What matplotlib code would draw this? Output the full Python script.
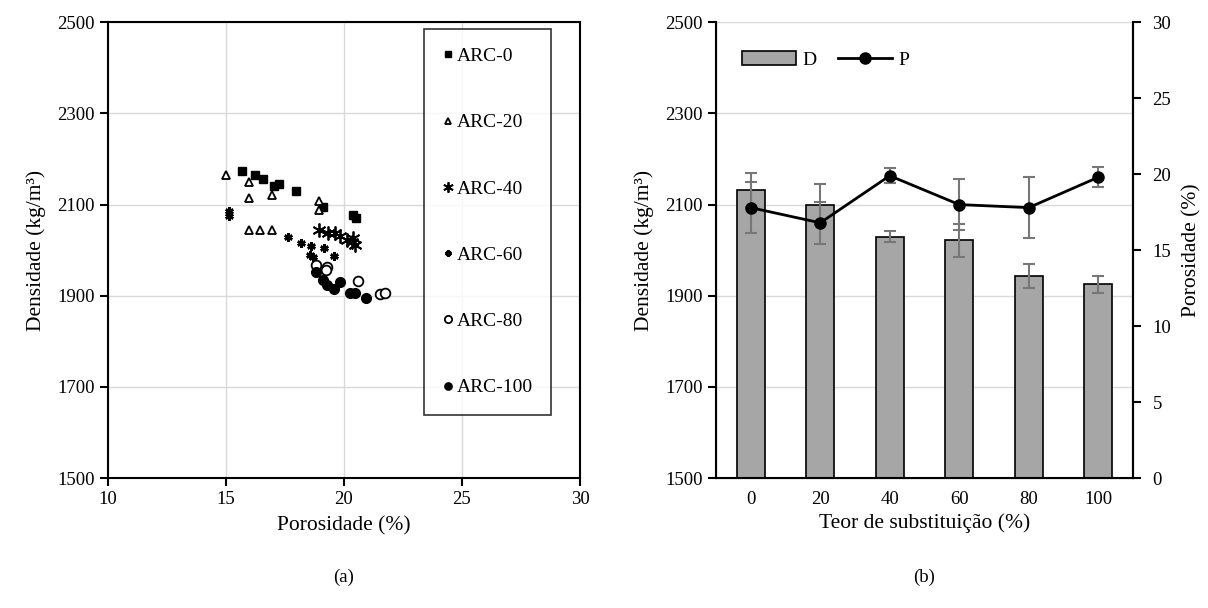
import matplotlib.pyplot as plt
import numpy as np

plt.rcParams['font.family'] = ['Liberation Serif', 'DejaVu Serif']

# --- (a) scatter data: porosity (%) vs density (kg/m3) ---
arc0_x = [15.66, 16.23, 16.58, 17.03, 17.26, 17.97, 19.12, 20.39, 20.51]
arc0_y = [2173, 2165, 2156, 2141, 2145, 2130, 2094, 2077, 2070]
arc20_x = [14.99, 15.97, 15.97, 16.95, 18.95, 18.95, 15.97, 16.44, 16.93]
arc20_y = [2165, 2149, 2114, 2121, 2108, 2088, 2044, 2044, 2044]
arc40_x = [18.95, 19.33, 19.62, 19.83, 20.11, 20.32, 20.47, 20.39]
arc40_y = [2045, 2037, 2037, 2031, 2022, 2018, 2011, 2026]
arc60_x = [15.14, 15.14, 17.64, 18.18, 18.59, 19.16, 19.58, 18.69, 18.55]
arc60_y = [2085, 2075, 2029, 2016, 2009, 2004, 1987, 1985, 1989]
arc80_x = [18.80, 19.27, 19.24, 20.58, 21.53, 21.74]
arc80_y = [1967, 1963, 1956, 1932, 1903, 1906]
arc100_x = [18.83, 19.12, 19.29, 19.59, 19.83, 20.25, 20.47, 20.92]
arc100_y = [1952, 1934, 1923, 1914, 1931, 1906, 1906, 1895]

# --- (b) bar + line data ---
teor = ['0', '20', '40', '60', '80', '100']
dens = [2132, 2100, 2029, 2022, 1944, 1925]
dens_err = [37, 45, 12, 36, 26, 18]
poros = [17.8, 16.8, 19.9, 18.0, 17.8, 19.8]
poros_err = [1.7, 1.4, 0.5, 1.7, 2.0, 0.66]

fig = plt.figure(figsize=(12.08, 6.08), dpi=100)
ax1 = fig.add_axes([0.0894, 0.2138, 0.3907, 0.7495])
ax2 = fig.add_axes([0.5927, 0.2138, 0.3452, 0.7495])

grid_c = '#d9d9d9'
err_c = '#777777'
tick_fs = 13.5
lab_fs = 15.5

# ---------------- (a) ----------------
ax1.plot(arc0_x, arc0_y, 's', color='black', ms=6, label='ARC-0')
ax1.plot(arc20_x, arc20_y, '^', mfc='white', mec='black', mew=1.3, ms=6, label='ARC-20')
ax1.plot(arc40_x, arc40_y, marker=(6, 2, 0), ls='none', color='black', ms=10, mew=1.3, label='ARC-40')
ax1.plot(arc60_x, arc60_y, marker=(6, 2, 0), ls='none', color='black', ms=6, mew=1.8, label='ARC-60')
ax1.plot(arc80_x, arc80_y, 'o', mfc='white', mec='black', mew=1.3, ms=7, label='ARC-80')
ax1.plot(arc100_x, arc100_y, 'o', color='black', ms=7, label='ARC-100')

ax1.set_xlim(10, 30)
ax1.set_ylim(1500, 2500)
ax1.set_xticks(np.arange(10, 31, 5))
ax1.set_yticks(np.arange(1500, 2501, 200))
ax1.grid(True, color=grid_c, lw=1)
ax1.set_axisbelow(True)
for s in ax1.spines.values():
    s.set_linewidth(1.5)
ax1.tick_params(labelsize=tick_fs, direction='out', length=6, width=1.5, top=False, right=False)
ax1.set_xlabel('Porosidade (%)', fontsize=lab_fs, labelpad=6)
ax1.set_ylabel('Densidade (kg/m³)', fontsize=lab_fs, labelpad=8)

leg1 = ax1.legend(loc='upper left', bbox_to_anchor=(0.669, 0.985), fontsize=14,
                  labelspacing=2.5, handlelength=0.6, handletextpad=0.15,
                  borderpad=0.95, borderaxespad=0, fancybox=False, markerscale=0.75)
leg1.get_frame().set_edgecolor('black')
leg1.get_frame().set_linewidth(1.2)

# ---------------- (b) ----------------
x = np.arange(len(teor))
ax2.bar(x, dens, width=0.4, color='#a6a6a6', edgecolor='black', lw=1.2, label='D', zorder=2)
ax2.errorbar(x, dens, yerr=dens_err, fmt='none', ecolor=err_c, elinewidth=1.5,
             capsize=4.3, capthick=1.5, zorder=3)
ax2.set_xlim(-0.5, 5.5)
ax2.set_ylim(1500, 2500)
ax2.set_yticks(np.arange(1500, 2501, 200))
ax2.set_xticks(x)
ax2.set_xticklabels(teor)
ax2.yaxis.grid(True, color=grid_c, lw=1)
ax2.set_axisbelow(True)
ax2.spines['top'].set_visible(False)
for s in ['left', 'right', 'bottom']:
    ax2.spines[s].set_linewidth(1.5)
ax2.tick_params(labelsize=tick_fs, direction='out', length=6, width=1.5)
ax2.tick_params(axis='x', length=0, pad=9)
ax2.set_xlabel('Teor de substituição (%)', fontsize=lab_fs, labelpad=4)
ax2.set_ylabel('Densidade (kg/m³)', fontsize=lab_fs, labelpad=8)

ax3 = ax2.twinx()
ax3.errorbar(x, poros, yerr=poros_err, fmt='none', ecolor=err_c, elinewidth=1.5,
             capsize=4.3, capthick=1.5, zorder=3)
ax3.plot(x, poros, '-o', color='black', lw=2, ms=8, label='P', zorder=4)
ax3.set_ylim(0, 30)
ax3.set_yticks(np.arange(0, 31, 5))
ax3.spines['top'].set_visible(False)
ax3.spines['right'].set_linewidth(1.5)
ax3.tick_params(labelsize=tick_fs, direction='out', length=6, width=1.5, pad=8)
ax3.set_ylabel('Porosidade (%)', fontsize=lab_fs, labelpad=8)

h1, l1 = ax2.get_legend_handles_labels()
h2, l2 = ax3.get_legend_handles_labels()
ax3.legend(h1 + h2, l1 + l2, loc='upper left', bbox_to_anchor=(0.02, 0.975), ncol=2,
           frameon=False, fontsize=14, handlelength=2.8, columnspacing=1.1,
           handletextpad=0.3)

fig.text(0.2845, 0.05, '(a)', ha='center', va='center', fontsize=13.5)
fig.text(0.7653, 0.05, '(b)', ha='center', va='center', fontsize=13.5)

fig.savefig('out.png', dpi=100)
